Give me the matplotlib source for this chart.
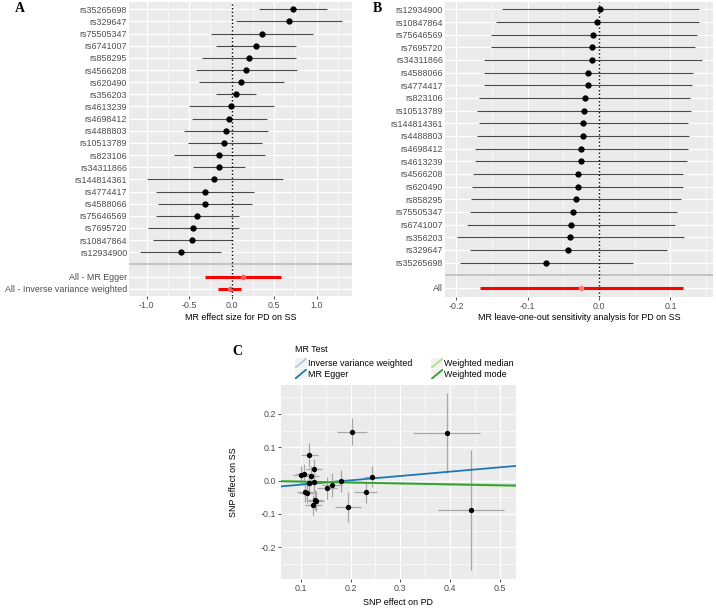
import matplotlib.pyplot as plt
import numpy as np

plt.rcParams['font.family'] = ['Liberation Sans', 'DejaVu Sans']
plt.rcParams['axes.unicode_minus'] = False

# Panel A: single SNP MR estimates
snps_a = ['rs35265698', 'rs329647', 'rs75505347', 'rs6741007', 'rs858295', 'rs4566208',
          'rs620490', 'rs356203', 'rs4613239', 'rs4698412', 'rs4488803', 'rs10513789',
          'rs823106', 'rs34311866', 'rs144814361', 'rs4774417', 'rs4588066', 'rs75646569',
          'rs7695720', 'rs10847864', 'rs12934900']
b_a = [0.717, 0.67, 0.357, 0.282, 0.2, 0.168, 0.113, 0.051, -0.008, -0.027, -0.067, -0.087,
       -0.149, -0.153, -0.204, -0.318, -0.318, -0.408, -0.451, -0.467, -0.6]
lo_a = [0.325, 0.047, -0.24, -0.185, -0.349, -0.42, -0.385, -0.188, -0.506, -0.467, -0.557,
        -0.518, -0.679, -0.451, -0.996, -0.89, -0.867, -0.89, -0.98, -0.926, -1.075]
hi_a = [1.125, 1.30, 0.953, 0.756, 0.753, 0.765, 0.619, 0.29, 0.494, 0.419, 0.423, 0.357,
        0.388, 0.153, 0.6, 0.262, 0.239, 0.082, 0.082, 0.0, -0.122]
summary_a = ['All - MR Egger', 'All - Inverse variance weighted']
sb_a = [0.129, -0.02]
slo_a = [-0.314, -0.165]
shi_a = [0.58, 0.113]

# Panel B: leave-one-out
snps_b = ['rs12934900', 'rs10847864', 'rs75646569', 'rs7695720', 'rs34311866', 'rs4588066',
          'rs4774417', 'rs823106', 'rs10513789', 'rs144814361', 'rs4488803', 'rs4698412',
          'rs4613239', 'rs4566208', 'rs620490', 'rs858295', 'rs75505347', 'rs6741007',
          'rs356203', 'rs329647', 'rs35265698']
b_b = [0.0014, -0.003, -0.008, -0.0094, -0.0094, -0.015, -0.016, -0.020, -0.0215, -0.022,
       -0.023, -0.025, -0.026, -0.030, -0.030, -0.033, -0.036, -0.039, -0.041, -0.043, -0.074]
lo_b = [-0.136, -0.145, -0.152, -0.152, -0.162, -0.161, -0.161, -0.168, -0.171, -0.168,
        -0.171, -0.174, -0.174, -0.177, -0.178, -0.179, -0.181, -0.185, -0.199, -0.181, -0.195]
hi_b = [0.140, 0.140, 0.137, 0.135, 0.144, 0.131, 0.130, 0.128, 0.129, 0.125, 0.126, 0.125,
        0.123, 0.117, 0.117, 0.115, 0.109, 0.107, 0.119, 0.095, 0.047]
all_b = [-0.025]
all_lo_b = [-0.167]
all_hi_b = [0.117]

# Panel C: SNP effects
x_c = [0.203, 0.117, 0.393, 0.127, 0.107, 0.100, 0.121, 0.243, 0.181, 0.127, 0.117,
       0.162, 0.152, 0.230, 0.442, 0.109, 0.112, 0.194, 0.129, 0.131, 0.125]
y_c = [0.147, 0.077, 0.142, 0.034, 0.021, 0.017, 0.014, 0.012, 0.000, -0.003, -0.007,
       -0.013, -0.021, -0.034, -0.088, -0.033, -0.036, -0.079, -0.058, -0.061, -0.073]
xse_c = [0.030, 0.017, 0.067, 0.016, 0.016, 0.015, 0.016, 0.017, 0.015, 0.016, 0.015,
         0.020, 0.020, 0.023, 0.067, 0.016, 0.016, 0.026, 0.016, 0.016, 0.017]
yse_c = [0.040, 0.035, 0.120, 0.030, 0.030, 0.028, 0.030, 0.031, 0.033, 0.030, 0.030,
         0.035, 0.033, 0.033, 0.180, 0.030, 0.030, 0.046, 0.030, 0.030, 0.030]
methods = ['Inverse variance weighted', 'MR Egger', 'Weighted median', 'Weighted mode']
slopes = [-0.025, 0.13, -0.03, -0.028]
intercepts = [0.0, -0.025, 0.0, 0.0]
method_colors = ['#a6cee3', '#1f78b4', '#b2df8a', '#33a02c']

FS = 6.4
W, H = 716, 608


def gg_axes(ax):
    ax.set_facecolor('#ebebeb')
    for s in ax.spines.values():
        s.set_visible(False)
    ax.tick_params(colors='#333333', labelcolor='#4d4d4d', labelsize=FS, length=2.5, width=0.6, pad=1)
    ax.tick_params(which='minor', length=0)
    ax.grid(which='major', color='white', lw=0.9)
    ax.grid(which='minor', color='white', lw=0.45)
    ax.set_axisbelow(True)


def box(l, t, r, b):
    return [l / W, 1 - b / H, (r - l) / W, (b - t) / H]


fig = plt.figure(figsize=(7.16, 6.08), dpi=100)

# ---- A
ax = fig.add_axes(box(129.3, 2, 352.3, 296))
gg_axes(ax)
ax.tick_params(axis='y', length=0, pad=1.5)
n = len(snps_a)
ypos = np.arange(n)
ax.hlines(ypos, lo_a, hi_a, color='#4a4a4a', lw=0.8)
ax.plot(b_a, ypos, 'o', color='black', ms=3.5)
sy = [n + 1, n + 2]
ax.hlines(sy, slo_a, shi_a, color='red', lw=2.2)
ax.plot(sb_a, sy, 'o', color='#ff6060', ms=3)
ax.axhline(n, color='#bdbdbd', lw=1.2)
ax.axvline(0, color='black', ls=':', lw=1)
ax.set_yticks(list(ypos) + sy)
ax.set_yticklabels(snps_a + summary_a)
ax.set_ylim(n + 2.6, -0.6)
ax.set_xlim(-1.205, 1.419)
ax.set_xticks([-1, -0.5, 0, 0.5, 1])
ax.set_xticklabels(['-1.0', '-0.5', '0.0', '0.5', '1.0'])
ax.set_xticks([-0.75, -0.25, 0.25, 0.75, 1.25], minor=True)
ax.set_xlabel('MR effect size for PD on SS', fontsize=FS, va='center')
ax.xaxis.set_label_coords(0.5, -0.0724)

# ---- B
ax = fig.add_axes(box(445, 2, 713.3, 296.7))
gg_axes(ax)
ax.tick_params(axis='y', length=0, pad=1.5)
n = len(snps_b)
ypos = np.arange(n)
ax.hlines(ypos, lo_b, hi_b, color='#4a4a4a', lw=0.8)
ax.plot(b_b, ypos, 'o', color='black', ms=3.5)
ax.hlines([n + 1], all_lo_b, all_hi_b, color='red', lw=2.2)
ax.plot(all_b, [n + 1], 'o', color='#ff8080', ms=3)
ax.axhline(n, color='#bdbdbd', lw=1.2)
ax.axvline(0, color='black', ls=':', lw=1)
ax.set_yticks(list(ypos) + [n + 1])
ax.set_yticklabels(snps_b + ['All'])
ax.set_ylim(n + 1.7, -0.58)
ax.set_xlim(-0.216, 0.160)
ax.set_xticks([-0.2, -0.1, 0, 0.1])
ax.set_xticklabels(['-0.2', '-0.1', '0.0', '0.1'])
ax.set_xticks([-0.15, -0.05, 0.05, 0.15], minor=True)
ax.set_xlabel('MR leave-one-out sensitivity analysis for PD on SS', fontsize=FS, va='center')
ax.xaxis.set_label_coords(0.5, -0.0699)

# ---- C
ax = fig.add_axes(box(281, 385, 515.7, 579.3))
gg_axes(ax)
ax.errorbar(x_c, y_c, xerr=xse_c, yerr=yse_c, fmt='none', ecolor='#a8a8a8', elinewidth=0.9, capsize=0)
for m, s, i, c in zip(methods, slopes, intercepts, method_colors):
    ax.axline((0, i), slope=s, color=c, lw=1.3)
ax.plot(x_c, y_c, 'o', color='black', ms=2.8, zorder=5)
ax.set_xlim(0.060, 0.532)
ax.set_ylim(-0.296, 0.287)
ax.set_xticks([0.1, 0.2, 0.3, 0.4, 0.5])
ax.set_xticks([0.15, 0.25, 0.35, 0.45], minor=True)
ax.set_yticks([-0.2, -0.1, 0.0, 0.1, 0.2])
ax.set_yticklabels(['-0.2', '-0.1', '0.0', '0.1', '0.2'])
ax.set_yticks([-0.25, -0.15, -0.05, 0.05, 0.15, 0.25], minor=True)
ax.set_xlabel('SNP effect on PD', fontsize=FS, va='center')
ax.xaxis.set_label_coords(0.5, -0.1204)
ax.set_ylabel('SNP effect on SS', fontsize=FS, va='center')
ax.yaxis.set_label_coords(-0.2045, 0.5)

# legend for C
fig.text(295 / W, 1 - 350 / H, 'MR Test', fontsize=FS, va='center', ha='left')
key_pos = [(294.5, 363.3), (294.5, 374.3), (431, 363.3), (431, 374.3)]
for (kx, ky), m, c in zip(key_pos, methods, method_colors):
    kax = fig.add_axes(box(kx, ky - 5, kx + 12, ky + 5))
    kax.set_facecolor('#f2f2f2')
    for s in kax.spines.values():
        s.set_visible(False)
    kax.set_xticks([])
    kax.set_yticks([])
    kax.plot([0.05, 0.95], [0.05, 0.95], color=c, lw=1.3)
    kax.set_xlim(0, 1)
    kax.set_ylim(0, 1)
    fig.text((kx + 13) / W, 1 - ky / H, m, fontsize=FS, va='center', ha='left')

for lbl, px, py in [('A', 20, 9), ('B', 377, 9), ('C', 237, 351.7)]:
    fig.text(px / W, 1 - py / H, lbl, fontsize=10, fontweight='bold',
             family='Liberation Serif', ha='center', va='center')

fig.savefig('out.png', dpi=100)
